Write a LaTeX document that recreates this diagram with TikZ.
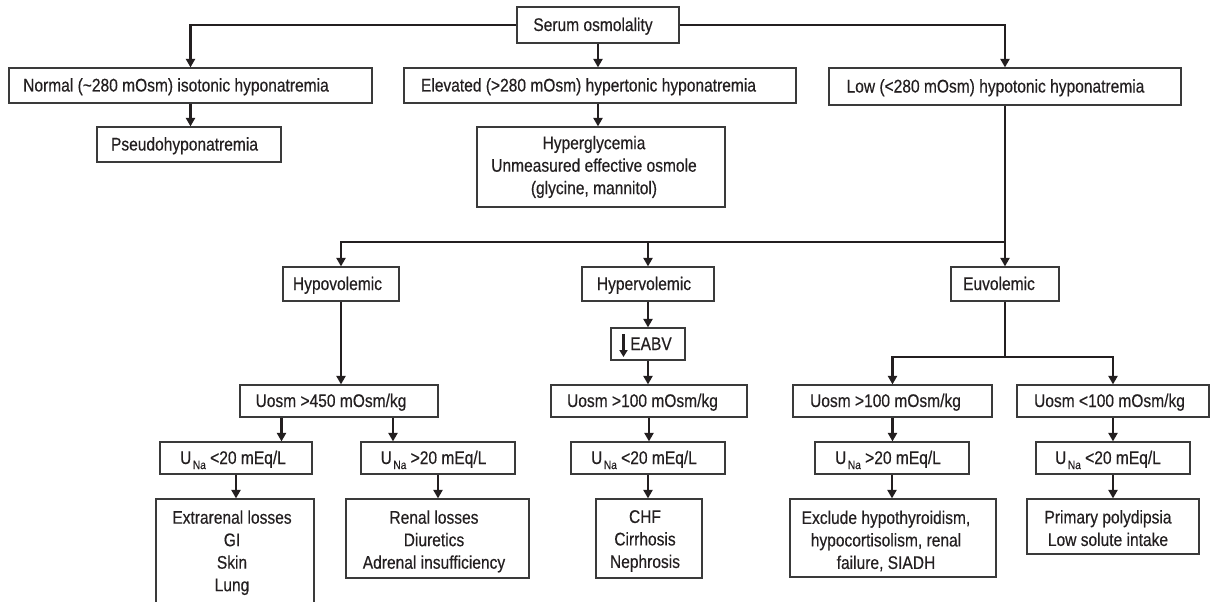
\documentclass[tikz,border=0pt]{standalone}
\usepackage{fontspec}
\setmainfont{Liberation Sans}[FakeStretch=0.85,FakeBold=0.35]
\usetikzlibrary{arrows.meta}
\definecolor{ink}{HTML}{231F20}
\definecolor{edge}{HTML}{3A3A3A}

% box outline given by its left, right, top and bottom edges (y grows downwards)
\newcommand{\flowbox}[5]{%
  \node[box, minimum width={#3-#2}, minimum height={#5-#4}] (#1) at ({(#2+#3)/2},{(#4+#5)/2}) {};}
% urine sodium label
\newcommand{\una}[1]{\strut U\hspace{1.5pt}\raisebox{-5pt}{\fontsize{12}{12}\selectfont Na}\ #1}

\tikzset{
  box/.style={draw=edge, line width=1.2pt, fill=white, inner sep=0pt},
  txt/.style={inner sep=0pt, text=ink, align=center, font=\fontsize{18.3}{22.5}\selectfont},
  arr/.style={draw=ink, line width=2.3pt, -{Triangle[length=8.5pt,width=9pt]}},
  link/.style={draw=ink, line width=2.3pt},
}

\begin{document}
\begin{tikzpicture}[x=1pt,y=-1pt]
\useasboundingbox (0,0) rectangle (1211,602);
\clip (0,0) rectangle (1211,602);
\fill[white] (0,0) rectangle (1211,602);

% ---- boxes ----
\flowbox{serum}{517}{679}{7}{43}
\flowbox{normal}{9}{372}{68}{103}
\flowbox{elevated}{404}{796}{68}{103}
\flowbox{low}{829}{1181}{68}{105}
\flowbox{pseudo}{97}{281}{127}{162}
\flowbox{hyper}{477}{725}{127}{207}
\flowbox{hypovol}{283}{399}{267}{301}
\flowbox{hypervol}{582}{714}{267}{301}
\flowbox{euvol}{951}{1059}{267}{301}
\flowbox{eabv}{611}{685}{328}{360}
\flowbox{uosmA}{240}{438}{385}{417}
\flowbox{uosmB}{551}{747}{385}{417}
\flowbox{uosmC}{793}{992}{385}{417}
\flowbox{uosmD}{1017}{1209}{385}{417}
\flowbox{unaA}{160}{312}{442}{474}
\flowbox{unaB}{361}{515}{442}{474}
\flowbox{unaC}{571}{725}{442}{474}
\flowbox{unaD}{815}{969}{442}{474}
\flowbox{unaE}{1036}{1190}{442}{474}
\flowbox{extra}{156}{314}{499}{640}
\flowbox{renal}{346}{529}{499}{578}
\flowbox{chf}{596}{702}{499}{578}
\flowbox{excl}{790}{996}{499}{577}
\flowbox{prim}{1027}{1199}{499}{554}

% ---- labels ----
\node[txt] (serum-t) at (593,26.5) {\strut Serum osmolality};
\node[txt] (normal-t) at (176,87) {\strut Normal (\textasciitilde280 mOsm) isotonic hyponatremia};
\node[txt] (elevated-t) at (588.5,87) {\strut Elevated (>280 mOsm) hypertonic hyponatremia};
\node[txt] (low-t) at (995.5,88) {\strut Low (<280 mOsm) hypotonic hyponatremia};
\node[txt] (pseudo-t) at (184.5,146) {\strut Pseudohyponatremia};
\node[txt, anchor=north] (hyper-t) at (594,133.25)
  {\strut Hyperglycemia\\\strut Unmeasured effective osmole\\\strut (glycine, mannitol)};
\node[txt] (hypovol-t) at (337.5,285.5) {\strut Hypovolemic};
\node[txt] (hypervol-t) at (644,285.5) {\strut Hypervolemic};
\node[txt] (euvol-t) at (999,285.5) {\strut Euvolemic};
\node[txt] (eabv-t) at (651,345.5) {\strut EABV};
\draw[draw=ink, line width=2.4pt, -{Triangle[length=7pt,width=8pt]}] (623.5,334) -- (623.5,357);
\node[txt] (uosmA-t) at (331,402.5) {\strut Uosm >450 mOsm/kg};
\node[txt] (uosmB-t) at (642.5,402.5) {\strut Uosm >100 mOsm/kg};
\node[txt] (uosmC-t) at (885.5,402.5) {\strut Uosm >100 mOsm/kg};
\node[txt] (uosmD-t) at (1109.5,402.5) {\strut Uosm <100 mOsm/kg};
\node[txt] (unaA-t) at (233,459.5) {\una{<20 mEq/L}};
\node[txt] (unaB-t) at (433.5,459.5) {\una{>20 mEq/L}};
\node[txt] (unaC-t) at (644,459.5) {\una{<20 mEq/L}};
\node[txt] (unaD-t) at (888,459.5) {\una{>20 mEq/L}};
\node[txt] (unaE-t) at (1108,459.5) {\una{<20 mEq/L}};
\node[txt, anchor=north] (extra-t) at (232,507.75)
  {\strut Extrarenal losses\\\strut GI\\\strut Skin\\\strut Lung};
\node[txt, anchor=north] (renal-t) at (434,507.75)
  {\strut Renal losses\\\strut Diuretics\\\strut Adrenal insufficiency};
\node[txt, anchor=north] (chf-t) at (645,507)
  {\strut CHF\\\strut Cirrhosis\\\strut Nephrosis};
\node[txt, anchor=north] (excl-t) at (886,508)
  {\strut Exclude hypothyroidism,\\\strut hypocortisolism, renal\\\strut failure, SIADH};
\node[txt, anchor=north] (prim-t) at (1108,507.5)
  {\strut Primary polydipsia\\\strut Low solute intake};

% ---- connectors ----
\draw[arr] (serum.west) -| (normal.north);
\draw[arr] (serum.south) -- (serum.south |- elevated.north);
\draw[arr] (serum.east) -| (low.north);
\draw[arr] (normal.south) -- (normal.south |- pseudo.north);
\draw[arr] (serum.south |- elevated.south) -- (serum.south |- hyper.north);

\coordinate (split) at (1005,242);
\draw[link] (low.south) -- (split);
\draw[arr] (split) -| (hypovol.north);
\draw[arr] (hypervol.north |- split) -- (hypervol.north);
\draw[arr] (split) -- (euvol.north);

\draw[arr] (hypovol.south) -- (hypovol.south |- uosmA.north);
\draw[arr] (hypervol.south) -- (eabv.north);
\draw[arr] (eabv.south) -- (eabv.south |- uosmB.north);

\coordinate (eusplit) at (1005,357);
\draw[link] (euvol.south) -- (eusplit);
\draw[arr] (eusplit) -| (uosmC.north);
\draw[arr] (eusplit) -| (uosmD.north);

\draw[arr] ([xshift=-57.5pt]uosmA.south) -- ([xshift=-57.5pt]uosmA.south |- unaA.north);
\draw[arr] ([xshift=54pt]uosmA.south) -- ([xshift=54pt]uosmA.south |- unaB.north);
\draw[arr] (unaA.south) -- (unaA.south |- extra.north);
\draw[arr] (unaB.south) -- (unaB.south |- renal.north);

\draw[arr] (uosmB.south) -- (uosmB.south |- unaC.north);
\draw[arr] (unaC.south) -- (unaC.south |- chf.north);

\draw[arr] (uosmC.south) -- (uosmC.south |- unaD.north);
\draw[arr] (unaD.south) -- (unaD.south |- excl.north);

\draw[arr] (uosmD.south) -- (uosmD.south |- unaE.north);
\draw[arr] (unaE.south) -- (unaE.south |- prim.north);
\end{tikzpicture}
\end{document}
